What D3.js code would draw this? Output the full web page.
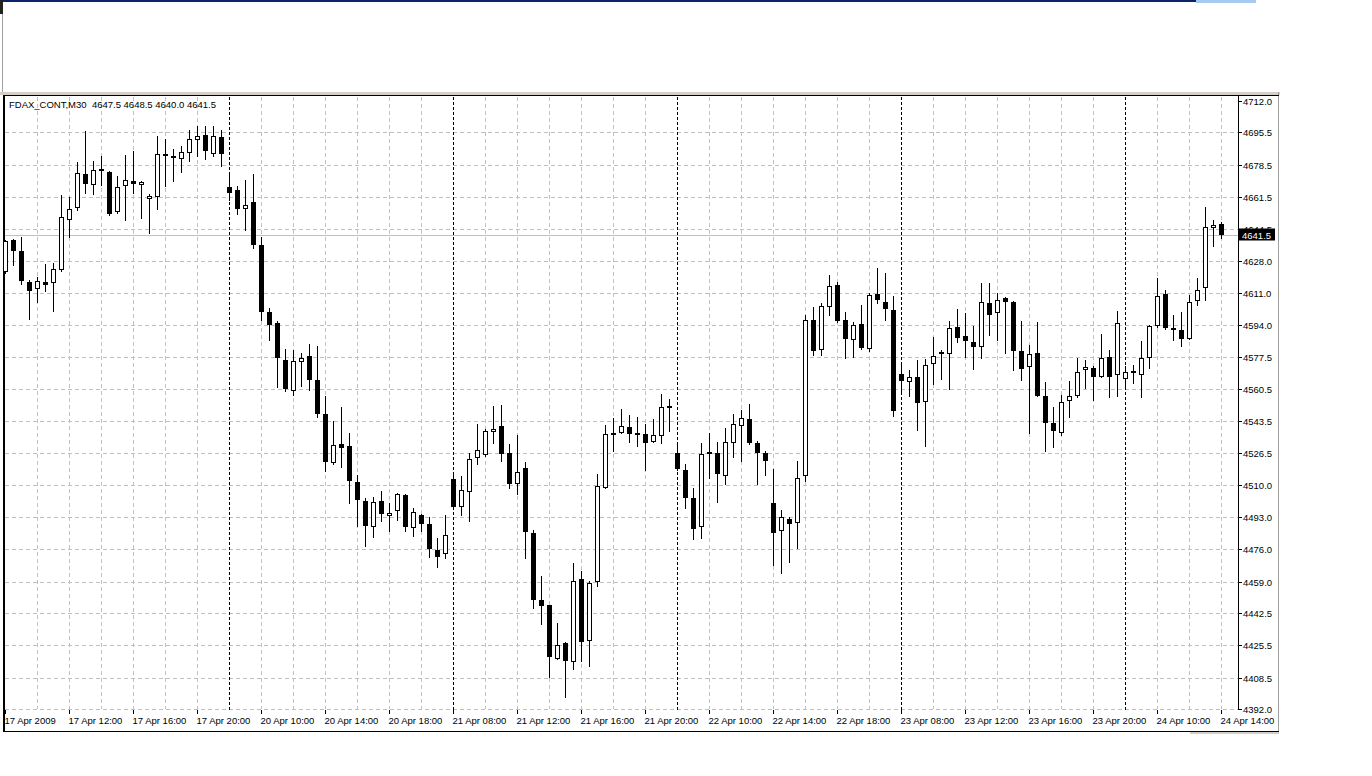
<!DOCTYPE html>
<html>
<head>
<meta charset="utf-8">
<script src="https://cdn.jsdelivr.net/npm/d3@7/dist/d3.min.js"></script>
<style>
  body { margin: 0; background: #fff; }
  svg { display: block; }
  text { font-family: "Liberation Sans", Arial, sans-serif; font-size: 9.5px; fill: #000; white-space: pre; }
</style>
</head>
<body>
<script>
// FDAX 30 minute bars, 17 Apr 2009 08:00 .. 24 Apr 2009 14:00
var symbol = "FDAX_CONT,M30";

var opens = [
  4622.0, 4639.0, 4633.0, 4616.5, 4613.0, 4617.0, 4616.0, 4623.0, 4649.5, 4655.5,
  4673.5, 4668.0, 4676.0, 4674.5, 4653.5, 4667.5, 4670.0, 4668.0, 4660.5, 4661.5,
  4684.0, 4683.0, 4681.5, 4684.5, 4691.5, 4694.0, 4684.0, 4693.0, 4667.0, 4665.0,
  4655.0, 4659.0, 4636.0, 4601.0, 4595.0, 4575.5, 4559.5, 4574.5, 4578.0, 4565.0,
  4547.5, 4521.5, 4531.5, 4530.5, 4511.5, 4501.5, 4488.0, 4501.5, 4493.5, 4496.0,
  4504.5, 4487.5, 4494.0, 4489.5, 4475.5, 4473.5, 4513.0, 4498.5, 4506.0, 4524.0,
  4525.5, 4538.0, 4541.0, 4526.5, 4510.5, 4519.0, 4484.5, 4449.5, 4446.5, 4418.5,
  4426.5, 4417.0, 4460.5, 4428.0, 4459.0, 4508.5, 4536.0, 4537.5, 4540.5, 4537.5,
  4536.5, 4532.5, 4535.5, 4551.5, 4527.0, 4518.0, 4503.0, 4488.0, 4526.5, 4527.0,
  4514.5, 4532.0, 4541.0, 4544.5, 4532.0, 4526.5, 4500.5, 4485.5, 4492.0, 4490.0,
  4514.5, 4596.5, 4581.0, 4603.5, 4615.0, 4596.5, 4586.0, 4594.5, 4581.5, 4610.5,
  4606.0, 4602.0, 4568.5, 4564.0, 4566.5, 4553.5, 4573.5, 4580.0, 4579.0, 4593.0,
  4588.5, 4585.0, 4582.5, 4605.5, 4600.5, 4608.5, 4606.0, 4580.5, 4572.0, 4579.5,
  4556.5, 4542.5, 4537.5, 4554.0, 4557.0, 4570.5, 4571.5, 4567.0, 4577.5, 4568.0,
  4565.5, 4570.0, 4568.0, 4576.5, 4593.5, 4610.5, 4592.5, 4591.5, 4587.0, 4606.5,
  4613.5, 4645.0, 4647.5
];
var highs = [
  4639.0, 4639.5, 4640.5, 4618.0, 4619.5, 4626.0, 4627.0, 4662.5, 4661.5, 4680.0,
  4696.0, 4680.5, 4683.0, 4675.0, 4672.5, 4683.5, 4685.5, 4670.0, 4663.0, 4693.5,
  4692.0, 4686.5, 4688.5, 4696.5, 4699.0, 4699.0, 4699.0, 4697.0, 4673.5, 4667.5,
  4670.5, 4673.5, 4640.5, 4603.0, 4596.0, 4581.5, 4581.0, 4579.5, 4584.0, 4583.0,
  4556.5, 4543.5, 4551.0, 4537.5, 4515.0, 4503.0, 4503.5, 4506.5, 4500.5, 4505.5,
  4505.0, 4498.0, 4494.5, 4493.0, 4482.0, 4494.0, 4515.0, 4514.5, 4527.0, 4542.0,
  4539.5, 4551.5, 4552.0, 4531.5, 4536.0, 4522.0, 4486.0, 4462.0, 4447.0, 4437.5,
  4427.5, 4469.0, 4464.5, 4459.5, 4515.5, 4541.5, 4545.0, 4550.0, 4547.0, 4545.5,
  4542.0, 4544.5, 4558.0, 4555.0, 4532.0, 4521.0, 4508.5, 4532.0, 4537.5, 4532.5,
  4540.0, 4547.5, 4549.5, 4552.5, 4533.0, 4528.0, 4518.5, 4496.5, 4493.0, 4522.5,
  4599.5, 4603.5, 4605.5, 4620.5, 4616.5, 4601.0, 4595.5, 4604.5, 4611.0, 4624.0,
  4621.5, 4609.5, 4573.0, 4570.5, 4575.5, 4576.0, 4588.0, 4581.0, 4596.0, 4602.5,
  4600.5, 4593.5, 4616.0, 4616.0, 4611.0, 4609.0, 4606.5, 4596.0, 4583.5, 4595.5,
  4564.0, 4551.0, 4557.5, 4564.5, 4577.0, 4575.5, 4572.5, 4589.5, 4581.0, 4601.5,
  4572.5, 4573.0, 4585.5, 4594.0, 4619.0, 4612.5, 4599.5, 4601.0, 4610.0, 4619.0,
  4656.0, 4649.5, 4648.5
];
var lows = [
  4621.5, 4625.5, 4615.5, 4597.5, 4606.0, 4612.0, 4601.5, 4622.5, 4640.5, 4654.5,
  4663.5, 4663.0, 4668.0, 4652.0, 4653.0, 4649.5, 4663.5, 4650.5, 4642.5, 4655.0,
  4667.5, 4670.0, 4674.5, 4680.5, 4683.0, 4681.5, 4683.0, 4678.0, 4660.0, 4652.5,
  4644.0, 4634.5, 4596.5, 4586.0, 4561.5, 4559.5, 4557.5, 4562.0, 4560.0, 4545.5,
  4517.5, 4521.0, 4519.5, 4500.5, 4488.5, 4478.0, 4482.5, 4491.0, 4485.5, 4491.5,
  4485.5, 4483.0, 4485.5, 4472.0, 4467.0, 4471.5, 4497.5, 4494.0, 4491.0, 4521.0,
  4525.0, 4532.0, 4522.5, 4508.5, 4505.0, 4471.5, 4445.0, 4436.5, 4409.0, 4418.5,
  4398.5, 4413.0, 4417.5, 4414.5, 4457.0, 4508.5, 4528.0, 4537.5, 4532.5, 4530.5,
  4518.0, 4532.5, 4532.0, 4538.5, 4518.0, 4498.0, 4481.5, 4482.0, 4513.5, 4501.0,
  4510.5, 4524.5, 4522.5, 4531.5, 4510.5, 4515.0, 4468.0, 4463.5, 4469.5, 4477.0,
  4512.0, 4578.5, 4578.5, 4599.5, 4595.5, 4577.0, 4577.5, 4581.5, 4580.5, 4605.5,
  4596.5, 4546.0, 4559.0, 4557.0, 4539.0, 4530.5, 4563.0, 4565.5, 4560.5, 4585.0,
  4577.5, 4571.0, 4576.5, 4589.0, 4586.0, 4579.5, 4570.5, 4565.0, 4537.5, 4556.5,
  4528.0, 4530.0, 4536.0, 4545.5, 4556.0, 4561.0, 4554.5, 4567.0, 4556.0, 4557.0,
  4561.5, 4563.5, 4556.0, 4571.5, 4593.0, 4592.0, 4586.0, 4583.0, 4587.0, 4604.5,
  4607.5, 4635.5, 4640.0
];
var closes = [
  4638.5, 4633.0, 4617.5, 4612.0, 4617.5, 4615.0, 4623.5, 4651.0, 4655.0, 4674.0,
  4668.5, 4675.5, 4675.0, 4652.5, 4667.0, 4670.5, 4668.5, 4669.5, 4662.0, 4684.0,
  4683.0, 4682.0, 4685.0, 4692.0, 4693.5, 4685.5, 4693.5, 4684.0, 4663.5, 4655.0,
  4657.5, 4636.0, 4601.0, 4594.0, 4576.5, 4560.5, 4575.0, 4576.5, 4565.0, 4547.5,
  4522.0, 4531.0, 4529.5, 4512.0, 4502.0, 4488.5, 4501.0, 4494.5, 4495.0, 4505.0,
  4488.0, 4495.5, 4489.5, 4476.0, 4472.0, 4483.5, 4498.5, 4507.5, 4523.5, 4528.5,
  4538.5, 4539.5, 4526.0, 4510.5, 4517.0, 4485.0, 4449.5, 4446.0, 4419.5, 4425.5,
  4417.5, 4459.5, 4427.5, 4458.5, 4509.5, 4536.5, 4537.5, 4541.0, 4536.5, 4536.0,
  4532.0, 4536.0, 4551.0, 4551.0, 4518.5, 4503.0, 4487.0, 4526.0, 4527.5, 4515.5,
  4532.5, 4542.0, 4545.0, 4532.0, 4526.5, 4522.5, 4484.5, 4493.0, 4489.5, 4513.5,
  4596.5, 4580.5, 4604.0, 4614.5, 4596.0, 4586.5, 4594.0, 4582.0, 4610.0, 4607.5,
  4602.5, 4549.0, 4564.5, 4567.0, 4553.0, 4573.0, 4578.0, 4579.0, 4592.5, 4587.5,
  4585.5, 4582.5, 4606.0, 4599.5, 4607.5, 4606.0, 4580.5, 4571.0, 4579.0, 4557.0,
  4542.5, 4538.5, 4553.5, 4556.5, 4569.5, 4572.0, 4567.0, 4576.5, 4567.0, 4595.0,
  4569.5, 4569.5, 4576.5, 4593.5, 4609.5, 4592.5, 4591.5, 4586.5, 4606.0, 4612.5,
  4645.5, 4646.5, 4641.5
];

// one trading day = 28 half hour bars (08:00 - 21:30)
var barsPerDay = 28;
var days = ["17 Apr", "20 Apr", "21 Apr", "22 Apr", "23 Apr", "24 Apr"];

// time scale labels, one every 8 bars
var timeLabels = [
  "17 Apr 2009", "17 Apr 12:00", "17 Apr 16:00", "17 Apr 20:00",
  "20 Apr 10:00", "20 Apr 14:00", "20 Apr 18:00",
  "21 Apr 08:00", "21 Apr 12:00", "21 Apr 16:00", "21 Apr 20:00",
  "22 Apr 10:00", "22 Apr 14:00", "22 Apr 18:00",
  "23 Apr 08:00", "23 Apr 12:00", "23 Apr 16:00", "23 Apr 20:00",
  "24 Apr 10:00", "24 Apr 14:00"
];

// price scale labels
var priceLabels = [
  4712.0, 4695.5, 4678.5, 4661.5, 4644.5, 4628.0, 4611.0, 4594.0, 4577.5, 4560.5,
  4543.5, 4526.5, 4510.0, 4493.0, 4476.0, 4459.0, 4442.5, 4425.5, 4408.5, 4392.0
];

var width = 1372,
  height = 776,
  plotLeft = 4,
  plotTop = 96,
  axisX = 1238,
  plotBottom = 709;

var n = closes.length;
var bars = d3.range(n).map(function (i) {
  return {i: i, o: opens[i], h: highs[i], l: lows[i], c: closes[i]};
});

var x = d3.scaleLinear().domain([0, n - 1]).range([5.5, 5.5 + 8 * (n - 1)]);
var y = d3.scaleLinear().domain([4392, 4712]).range([plotBottom, 101]);

function py(v) { return Math.round(y(v)) + 0.5; }

var svg = d3.select("body").append("svg")
  .attr("width", width)
  .attr("height", height);

// window chrome
svg.append("rect").attr("x", 0).attr("y", 0).attr("width", 1196).attr("height", 2).attr("fill", "#0a246a");
svg.append("rect").attr("x", 1196).attr("y", 0).attr("width", 60).attr("height", 3).attr("fill", "#a6caf0");
svg.append("rect").attr("x", 0).attr("y", 0).attr("width", 3).attr("height", 14).attr("fill", "#222");
svg.append("line").attr("x1", 2.5).attr("x2", 2.5).attr("y1", 14).attr("y2", 93).attr("stroke", "#a0a0a0");
svg.append("rect").attr("x", 0).attr("y", 92).attr("width", 1280).attr("height", 3).attr("fill", "#d4d0c8");
svg.append("line").attr("x1", 1278.5).attr("x2", 1278.5).attr("y1", 92).attr("y2", 732).attr("stroke", "#a0a0a0");
svg.append("rect").attr("x", 1190).attr("y", 732).attr("width", 89).attr("height", 2).attr("fill", "#d4d0c8");

// frame
svg.append("line").attr("x1", 3).attr("x2", 1279).attr("y1", 95.5).attr("y2", 95.5).attr("stroke", "#000");
svg.append("line").attr("x1", 3).attr("x2", 1279).attr("y1", 731.5).attr("y2", 731.5).attr("stroke", "#000");
svg.append("rect").attr("x", 3).attr("y", 95).attr("width", 2).attr("height", 637).attr("fill", "#000");

var plot = svg.append("g");

// horizontal grid
plot.selectAll(".hgrid")
  .data(priceLabels.slice(1))
  .enter().append("line")
  .attr("class", "hgrid")
  .attr("x1", plotLeft + 1).attr("x2", axisX)
  .attr("y1", py).attr("y2", py)
  .attr("stroke", "#c0c0c0")
  .attr("stroke-dasharray", "4,3");

// vertical grid every 4 bars, day separators dashed black
var vgrid = d3.range(4, n, 4).filter(function (i) { return i % barsPerDay != 0; });
plot.selectAll(".vgrid")
  .data(vgrid)
  .enter().append("line")
  .attr("class", "vgrid")
  .attr("x1", x).attr("x2", x)
  .attr("y1", plotTop + 1).attr("y2", plotBottom)
  .attr("stroke", "#c0c0c0")
  .attr("stroke-dasharray", "4,3");

plot.selectAll(".sep")
  .data(d3.range(1, days.length).map(function (d) { return d * barsPerDay; }))
  .enter().append("line")
  .attr("class", "sep")
  .attr("x1", x).attr("x2", x)
  .attr("y1", plotTop + 1).attr("y2", plotBottom + 1)
  .attr("stroke", "#000")
  .attr("stroke-dasharray", "3,2");

// last price line
var last = bars[n - 1];
plot.append("line")
  .attr("x1", plotLeft + 1).attr("x2", axisX)
  .attr("y1", py(last.c)).attr("y2", py(last.c))
  .attr("stroke", "#c0c0c0");

// candles
var candle = plot.selectAll(".candle")
  .data(bars)
  .enter().append("g")
  .attr("class", "candle");

candle.append("line")
  .attr("x1", function (d) { return x(d.i); })
  .attr("x2", function (d) { return x(d.i); })
  .attr("y1", function (d) { return Math.round(y(d.h)); })
  .attr("y2", function (d) { return Math.round(y(d.l)) + 1; })
  .attr("stroke", "#000");

candle.append("rect")
  .attr("x", function (d) { return x(d.i) - 2; })
  .attr("y", function (d) { return py(Math.max(d.o, d.c)); })
  .attr("width", 4)
  .attr("height", function (d) {
    return Math.max(1, Math.round(y(Math.min(d.o, d.c))) - Math.round(y(Math.max(d.o, d.c))) - 1);
  })
  .attr("fill", function (d) { return d.c >= d.o ? "#fff" : "#000"; })
  .attr("stroke", "#000");

// price axis
svg.append("line")
  .attr("x1", axisX + 0.5).attr("x2", axisX + 0.5)
  .attr("y1", plotTop).attr("y2", plotBottom + 1)
  .attr("stroke", "#000");

var yTicks = svg.append("g").selectAll("g")
  .data(priceLabels)
  .enter().append("g")
  .attr("transform", function (d) { return "translate(0," + py(d) + ")"; });

yTicks.append("line")
  .attr("x1", axisX + 1).attr("x2", axisX + 4)
  .attr("stroke", "#000");

yTicks.append("text")
  .attr("x", axisX + 5)
  .attr("dy", "0.35em")
  .text(function (d) { return d.toFixed(1); });

// last price tag
svg.append("rect")
  .attr("x", axisX + 1).attr("y", py(last.c) - 7)
  .attr("width", 36).attr("height", 12)
  .attr("fill", "#000");
svg.append("text")
  .attr("x", axisX + 4).attr("y", py(last.c))
  .attr("dy", "0.35em")
  .style("fill", "#fff")
  .text(last.c.toFixed(1));

// time axis
var xTicks = svg.append("g").selectAll("g")
  .data(timeLabels)
  .enter().append("g")
  .attr("transform", function (d, k) { return "translate(" + x(k * 8) + ",0)"; });

xTicks.append("line")
  .attr("y1", plotBottom + 1).attr("y2", plotBottom + 5)
  .attr("stroke", "#000");

xTicks.append("text")
  .attr("x", -1)
  .attr("y", 724)
  .text(function (d) { return d; });

// header
svg.append("text")
  .attr("x", 9)
  .attr("y", 108)
  .text(symbol + "  " + [last.o, last.h, last.l, last.c].map(function (v) { return v.toFixed(1); }).join(" "));
</script>
</body>
</html>
